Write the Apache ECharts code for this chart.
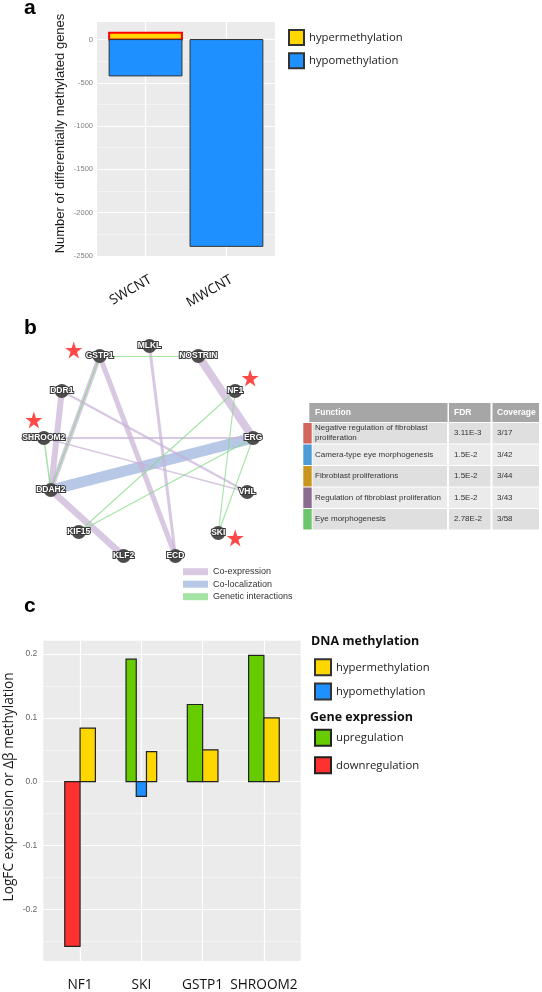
<!DOCTYPE html>
<html><head><meta charset="utf-8">
<script src="https://cdn.jsdelivr.net/npm/echarts@6/dist/echarts.min.js"></script>
<style>html,body{margin:0;padding:0;background:#fff;}#chart{width:542px;height:992px;}</style>
</head><body><div id="chart"></div>
<script>
// ---------- Panel a data ----------
const aCategories = ['SWCNT', 'MWCNT'];
const aHyper = [80, 0];
const aHypo = [-420, -2390];
const aTicks = [-2500, -2000, -1500, -1000, -500, 0];
const aMinorTicks = [-2250, -1750, -1250, -750, -250];

// ---------- Panel b data ----------
const nodeNames = ['GSTP1','MLKL','NOSTRIN','NF1','ERG','VHL','SKI','ECD','KLF2','KIF15','DDAH2','SHROOM2','DDR1'];
const nodeX = [-50, 0, 49, 86, 104, 98, 69, 26, -26, -71, -99, -106, -88];
const nodeY = [94, 104, 94, 59, 12, -42, -83, -106, -106, -82, -40, 12, 59];
const starX = [-76, 101, -116, 86];
const starY = [100, 72, 30, -88];
const edgeTypes = ['Co-expression', 'Co-localization', 'Genetic interactions'];
const edgeSource = ['DDAH2','NOSTRIN','GSTP1','DDR1','GSTP1','MLKL','DDR1','SHROOM2','SHROOM2','DDAH2','GSTP1','GSTP1','SHROOM2','NF1','ERG','NF1','ERG'];
const edgeTarget = ['ERG','ERG','DDAH2','DDAH2','ECD','ECD','VHL','ERG','VHL','KLF2','NOSTRIN','DDAH2','DDAH2','KIF15','KIF15','SKI','SKI'];
const edgeType = [1,0,0,0,0,0,0,0,0,0,2,2,2,2,2,2,2];
const edgeWeight = [11, 8, 4.5, 6, 5, 3, 2.5, 2, 1.5, 6.5, 1.2, 1.2, 1.5, 1.1, 1.1, 1.1, 1.1];

const fnNames = ['Negative regulation of fibroblast proliferation','Camera-type eye morphogenesis','Fibroblast proliferations','Regulation of fibroblast proliferation','Eye morphogenesis'];
const fnFDR = ['3.11E-3','1.5E-2','1.5E-2','1.5E-2','2.78E-2'];
const fnCoverage = ['3/17','3/42','3/44','3/43','3/58'];
const tableHeader = ['Function','FDR','Coverage'];

// ---------- Panel c data ----------
const cGenes = ['NF1','SKI','GSTP1','SHROOM2'];
const cExpression = [-0.258, 0.192, 0.121, 0.198];
const cHypo = [null, -0.023, null, null];
const cHyper = [0.084, 0.047, 0.050, 0.100];
const cTicks = [-0.2, -0.1, 0, 0.1, 0.2];
const cMinorTicks = [-0.25, -0.15, -0.05, 0.05, 0.15];

// ---------- styles ----------
const C_HYPER = '#ffd700', C_HYPO = '#1e90ff', C_UP = '#66cc00', C_DOWN = '#ff3030';
const EDGE_COLORS = ['#c7b0d6', '#9fb4de', '#86d986'];
const EDGE_OPAC = [0.7, 0.75, 0.75];
const FN_COLORS = ['#d0665c','#4b9bd6','#c8951f','#8b6b8e','#6cc46c'];
const F_UI = '"Open Sans", "DejaVu Sans", sans-serif';
const F_AR = '"Liberation Sans", Arial, sans-serif';
const BG = '#ebebeb';

function barRender(params, api) {
  const x = api.value(0), v = api.value(1), w = api.value(2);
  const base = api.coord([x, 0]), top = api.coord([x, v]);
  const pw = api.size([w, 0])[0];
  return {
    type: 'rect',
    shape: { x: base[0] - pw / 2, y: Math.min(base[1], top[1]), width: pw, height: Math.abs(top[1] - base[1]) },
    style: api.style()
  };
}

// panel a bar items
const A_W = 0.9;
const aHyperData = aHyper.map((v, i) => i === 0
  ? { value: [i + 1, v, A_W], itemStyle: { borderColor: '#ff0000', borderWidth: 2 } }
  : { value: [i + 1, v, A_W] });
const aHypoData = aHypo.map((v, i) => ({ value: [i + 1, v, A_W] }));

// panel c dodge
const DODGE = 0.5;
const cSeriesData = { up: [], down: [], hypo: [], hyper: [] };
cGenes.forEach((g, i) => {
  const bars = [];
  const e = cExpression[i];
  bars.push({ kind: e >= 0 ? 'up' : 'down', v: e });
  if (cHypo[i] != null) bars.push({ kind: 'hypo', v: cHypo[i] });
  if (cHyper[i] != null) bars.push({ kind: 'hyper', v: cHyper[i] });
  const n = bars.length, w = DODGE / n;
  bars.forEach((b, k) => {
    cSeriesData[b.kind].push([i + 1 - DODGE / 2 + (k + 0.5) * w, b.v, w]);
  });
});

// graphic: labels, titles, table
const graphics = [
  { type: 'text', x: 24, y: 8, style: { text: 'a', font: 'bold 21px ' + F_AR, fill: '#000', textVerticalAlign: 'middle', verticalAlign: 'middle' } },
  { type: 'text', x: 24, y: 328, style: { text: 'b', font: 'bold 21px ' + F_AR, fill: '#000', textVerticalAlign: 'middle', verticalAlign: 'middle' } },
  { type: 'text', x: 24, y: 606, style: { text: 'c', font: 'bold 21px ' + F_AR, fill: '#000', textVerticalAlign: 'middle', verticalAlign: 'middle' } },
  { type: 'text', x: 311, y: 641, style: { text: 'DNA methylation', font: 'bold 12.5px ' + F_UI, fill: '#111', textVerticalAlign: 'middle', verticalAlign: 'middle' } },
  { type: 'text', x: 310, y: 717, style: { text: 'Gene expression', font: 'bold 12.5px ' + F_UI, fill: '#111', textVerticalAlign: 'middle', verticalAlign: 'middle' } }
];
// table
const colX = [312.5, 449, 492.5], colW = [134.5, 41.5, 46.5], headX = 309.3;
const headY = 403, headH = 19, rowY0 = 423, rowStep = 21.5, rowH = 20.5;
graphics.push({ type: 'rect', shape: { x: headX, y: headY, width: colX[1] - 1.5 - headX, height: headH }, style: { fill: '#a6a6a6' } });
graphics.push({ type: 'rect', shape: { x: colX[1], y: headY, width: colW[1], height: headH }, style: { fill: '#a6a6a6' } });
graphics.push({ type: 'rect', shape: { x: colX[2], y: headY, width: colW[2], height: headH }, style: { fill: '#a6a6a6' } });
const txtX = [315, 454, 497];
tableHeader.forEach((h, j) => graphics.push({ type: 'text', x: txtX[j], y: headY + headH / 2, style: { text: h, font: 'bold 8.5px ' + F_AR, fill: '#fff', textVerticalAlign: 'middle', verticalAlign: 'middle' } }));
fnNames.forEach((name, i) => {
  const y = rowY0 + i * rowStep;
  const fill = i % 2 === 0 ? '#dfdfdf' : '#ebebeb';
  graphics.push({ type: 'rect', shape: { x: 303.3, y: y, width: 8.4, height: rowH }, style: { fill: FN_COLORS[i] } });
  for (let j = 0; j < 3; j++) graphics.push({ type: 'rect', shape: { x: colX[j], y: y, width: colW[j], height: rowH }, style: { fill: fill } });
  const cells = [name, fnFDR[i], fnCoverage[i]];
  cells.forEach((t, j) => graphics.push({ type: 'text', x: txtX[j], y: y + rowH / 2,
    style: { text: t, font: '8px ' + F_AR, fill: '#333', width: j === 0 ? 130 : undefined, overflow: j === 0 ? 'break' : undefined, lineHeight: 10, textVerticalAlign: 'middle', verticalAlign: 'middle' } }));
});

const STAR = 'path://M12,0 L14.9,8.6 L24,8.6 L16.6,14 L19.4,22.6 L12,17.3 L4.6,22.6 L7.4,14 L0,8.6 L9.1,8.6 Z';

const linkOrder = edgeSource.map((s, i) => i).sort((a, b) => {
  const rank = [1, 0, 2];
  return rank[edgeType[a]] - rank[edgeType[b]];
});
const links = linkOrder.map(i => ({
  source: edgeSource[i], target: edgeTarget[i],
  lineStyle: { color: EDGE_COLORS[edgeType[i]], width: edgeWeight[i], opacity: EDGE_OPAC[edgeType[i]], curveness: 0 }
}));

const option = {
  animation: false,
  backgroundColor: '#fff',
  textStyle: { fontFamily: F_UI },
  graphic: graphics,
  grid: [
    { left: 97, top: 22, width: 178, height: 235, show: true, backgroundColor: BG, borderWidth: 0, containLabel: false },
    { left: -1, top: 310, width: 300, height: 280, show: false },
    { left: 43.3, top: 640.7, width: 257.4, height: 322.6, show: true, backgroundColor: BG, borderWidth: 0 }
  ],
  xAxis: [
    { gridIndex: 0, type: 'value', min: 0.4, max: 2.6,
      axisLine: { show: false }, axisTick: { show: false, customValues: [1, 2] },
      axisLabel: { customValues: [1, 2], formatter: v => aCategories[Math.round(v) - 1], rotate: 30, margin: 13, fontSize: 13.5, lineHeight: 20, verticalAlign: 'top', color: '#111', fontFamily: F_UI },
      splitLine: { show: true, lineStyle: { color: '#fff', width: 1.2 } } },
    { gridIndex: 1, type: 'value', min: -150, max: 150, show: false },
    { gridIndex: 2, type: 'value', min: 0.4, max: 4.6,
      axisLine: { show: false }, axisTick: { show: false, customValues: [1, 2, 3, 4] },
      axisLabel: { customValues: [1, 2, 3, 4], formatter: v => cGenes[Math.round(v) - 1], margin: 17, fontSize: 13.7, color: '#111', fontFamily: F_UI },
      splitLine: { show: true, lineStyle: { color: '#fff', width: 1.2 } } }
  ],
  yAxis: [
    { gridIndex: 0, type: 'value', min: -2513, max: 203,
      axisLine: { show: false }, axisTick: { show: false, customValues: aTicks },
      axisLabel: { customValues: aTicks, formatter: v => String(Math.round(v)), fontSize: 7.5, color: '#7f7f7f', margin: 4, fontFamily: F_AR },
      splitLine: { show: true, lineStyle: { color: '#fff', width: 1.2 } },
      name: 'Number of differentially methylated genes', nameLocation: 'middle', nameGap: 30,
      nameTextStyle: { fontSize: 13, color: '#1a1a1a', fontFamily: F_AR, padding: [0, 0, 0, 12] } },
    { gridIndex: 0, type: 'value', min: -2513, max: 203, position: 'left',
      axisLine: { show: false }, axisTick: { show: false, customValues: aMinorTicks }, axisLabel: { show: false },
      splitLine: { show: true, lineStyle: { color: '#f8f8f8', width: 0.7 } } },
    { gridIndex: 1, type: 'value', min: -140, max: 140, show: false },
    { gridIndex: 2, type: 'value', min: -0.281, max: 0.221,
      axisLine: { show: false }, axisTick: { show: false, customValues: cTicks },
      axisLabel: { customValues: cTicks, formatter: v => v.toFixed(1), fontSize: 8.5, color: '#666', margin: 6, fontFamily: F_AR },
      splitLine: { show: true, lineStyle: { color: '#fff', width: 1.2 } },
      name: 'LogFC expression or \u0394\u03b2 methylation', nameLocation: 'middle', nameGap: 27,
      nameTextStyle: { fontSize: 13.7, color: '#1a1a1a', fontFamily: F_UI, padding: [0, 0, 0, 28] } },
    { gridIndex: 2, type: 'value', min: -0.281, max: 0.221, position: 'left',
      axisLine: { show: false }, axisTick: { show: false, customValues: cMinorTicks }, axisLabel: { show: false },
      splitLine: { show: true, lineStyle: { color: '#f8f8f8', width: 0.7 } } }
  ],
  legend: [
    { left: 288, top: 29, padding: 0, orient: 'vertical', icon: 'rect', itemWidth: 15, itemHeight: 15, itemGap: 6.2, selectedMode: false,
      data: ['hypermethylation', 'hypomethylation'], textStyle: { fontSize: 11.3, color: '#1a1a1a', fontFamily: F_UI } },
    { left: 314, top: 658.3, padding: 0, orient: 'vertical', icon: 'rect', itemWidth: 16, itemHeight: 16, itemGap: 6.3, selectedMode: false,
      data: ['hypermethylation', 'hypomethylation'], textStyle: { fontSize: 11.3, color: '#1a1a1a', fontFamily: F_UI } },
    { left: 314, top: 728.7, padding: 0, orient: 'vertical', icon: 'rect', itemWidth: 16, itemHeight: 16, itemGap: 9.6, selectedMode: false,
      data: ['upregulation', 'downregulation'], textStyle: { fontSize: 11.3, color: '#1a1a1a', fontFamily: F_UI } },
    { left: 183, top: 566.7, padding: 0, orient: 'vertical', icon: 'rect', itemWidth: 25, itemHeight: 7, itemGap: 2.5, selectedMode: false,
      data: edgeTypes, textStyle: { fontSize: 9, lineHeight: 10, color: '#333', fontFamily: F_AR } }
  ],
  series: [
    // panel a
    { type: 'custom', name: 'hypermethylation', xAxisIndex: 0, yAxisIndex: 0, renderItem: barRender, encode: { x: 0, y: 1 }, z: 3,
      itemStyle: { color: C_HYPER, borderColor: '#333', borderWidth: 1 }, data: aHyperData },
    { type: 'custom', name: 'hypomethylation', xAxisIndex: 0, yAxisIndex: 0, renderItem: barRender, encode: { x: 0, y: 1 }, z: 3,
      itemStyle: { color: C_HYPO, borderColor: '#333', borderWidth: 1 }, data: aHypoData },
    // panel c
    { type: 'custom', name: 'upregulation', xAxisIndex: 2, yAxisIndex: 3, renderItem: barRender, encode: { x: 0, y: 1 }, z: 3,
      itemStyle: { color: C_UP, borderColor: '#222', borderWidth: 1.2 }, data: cSeriesData.up },
    { type: 'custom', name: 'downregulation', xAxisIndex: 2, yAxisIndex: 3, renderItem: barRender, encode: { x: 0, y: 1 }, z: 3,
      itemStyle: { color: C_DOWN, borderColor: '#222', borderWidth: 1.2 }, data: cSeriesData.down },
    { type: 'custom', name: 'hypermethylation', xAxisIndex: 2, yAxisIndex: 3, renderItem: barRender, encode: { x: 0, y: 1 }, z: 3,
      itemStyle: { color: C_HYPER, borderColor: '#222', borderWidth: 1.2 }, data: cSeriesData.hyper },
    { type: 'custom', name: 'hypomethylation', xAxisIndex: 2, yAxisIndex: 3, renderItem: barRender, encode: { x: 0, y: 1 }, z: 3,
      itemStyle: { color: C_HYPO, borderColor: '#222', borderWidth: 1.2 }, data: cSeriesData.hypo },
    // panel b network
    { type: 'graph', coordinateSystem: 'cartesian2d', xAxisIndex: 1, yAxisIndex: 2, layout: 'none', z: 3,
      symbol: 'circle', symbolSize: 14, itemStyle: { color: '#4d4d4d' },
      label: { show: true, position: 'inside', color: '#fff', fontSize: 8.5, fontWeight: 'bold', fontFamily: F_AR, textBorderColor: '#3a3a3a', textBorderWidth: 2 },
      emphasis: { disabled: true },
      data: nodeNames.map((n, i) => ({ name: n, value: [nodeX[i], nodeY[i]] })),
      links: links },
    { type: 'scatter', xAxisIndex: 1, yAxisIndex: 2, symbol: STAR, symbolSize: 17, z: 4,
      itemStyle: { color: '#ff1a1a' }, data: starX.map((x, i) => [x, starY[i]]) },
    // legend proxies for edge types
    ...edgeTypes.map((t, k) => ({ type: 'line', name: t, xAxisIndex: 1, yAxisIndex: 2, data: [],
      itemStyle: { color: EDGE_COLORS[k], opacity: EDGE_OPAC[k] }, lineStyle: { color: EDGE_COLORS[k] } }))
  ]
};

const chart = echarts.init(document.getElementById('chart'), null, { renderer: 'canvas', width: 542, height: 992 });
chart.setOption(option);
</script>
</body></html>
